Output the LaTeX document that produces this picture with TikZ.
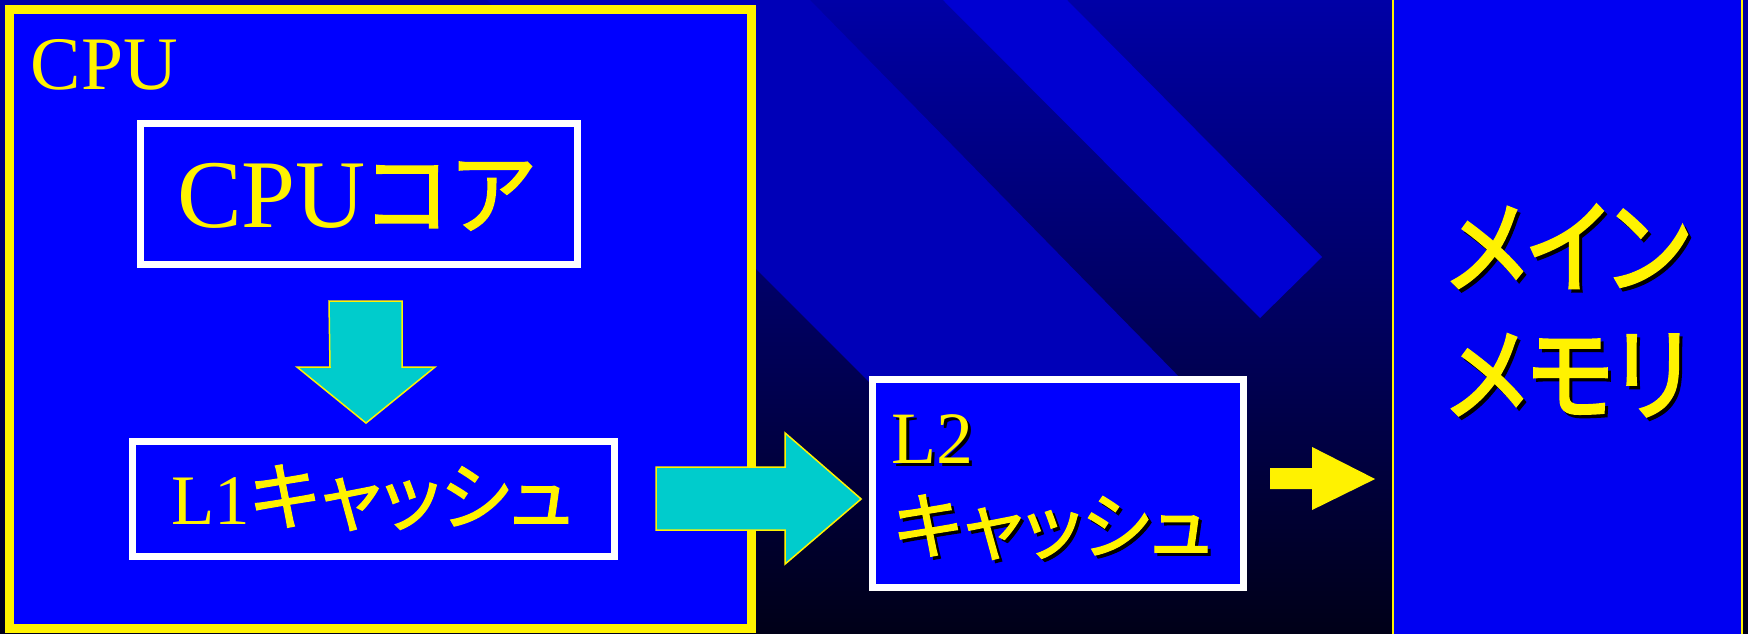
\documentclass[tikz,border=0pt]{standalone}
\usepackage{fontspec}
\setmainfont{Liberation Serif}
\newfontfamily\jp[RawFeature=+palt,FakeBold=1.6]{Noto Sans CJK JP}
\newfontfamily\jpheavy[RawFeature=+palt,FakeBold=2.6]{Noto Sans CJK JP}
\usetikzlibrary{calc}
\usepackage{xcolor}

\definecolor{panelblue}{HTML}{0000FF}
\definecolor{memblue}{HTML}{0000F2}
\definecolor{bgtop}{HTML}{0000A6}
\definecolor{bgbottom}{HTML}{000018}
\definecolor{ribbon}{HTML}{0000B8}
\definecolor{ribbonlight}{HTML}{0000D2}
\definecolor{fatcyan}{HTML}{00CCCC}

% black copy of the text a little down and right, yellow text on top
\newcommand{\shadowed}[1]{\makebox[0pt][l]{\hspace{0.03cm}\raisebox{-0.03cm}{\color{black}#1}}#1}

\begin{document}
\begin{tikzpicture}[x=0.01cm,y=-0.01cm,
every node/.style={inner sep=0pt},
cachebox/.style={rectangle,draw=white,fill=panelblue,line width=0.07cm},
lbl/.style={text=yellow},
fatarrow/.style={fill=fatcyan,draw=yellow,line width=0.015cm}]
\useasboundingbox (0,0) rectangle (1748,633);

% background and ribbons
\shade[top color=bgtop,bottom color=bgbottom] (0,0) rectangle (1748,633);
\fill[ribbon] (487,0) -- (810,0) -- (1187,385) -- (872,385) -- cycle;
\fill[ribbonlight] (943,0) -- (1067,0) -- (1322,257) -- (1260,318) -- cycle;

% CPU
\node[draw=yellow,fill=panelblue,line width=0.09cm,minimum width=7.41cm,minimum height=6.18cm] (cpu) at (380.5,319) {};
\node[lbl,anchor=base west,font=\fontsize{21.5}{24}\selectfont] (cpulbl) at (30,89) {CPU};

% main memory
\node[draw=yellow,fill=memblue,line width=0.02cm,minimum width=3.49cm,minimum height=6.6cm] (mem) at (1567.5,316.5) {};
\node[lbl,font=\fontsize{26}{30}\selectfont] (memtop) at (1568,248) {\scalebox{1}[1.12]{\shadowed{\jpheavy メイン}}};
\node[lbl,font=\fontsize{26}{30}\selectfont] (membot) at (1568,377) {\scalebox{1}[1.12]{\shadowed{\jpheavy メモリ}}};

% caches
\node[cachebox,minimum width=4.37cm,minimum height=1.41cm] (core) at (359,194) {};
\node[lbl,anchor=base,font=\fontsize{27.6}{30}\selectfont] (coretxt) at (356,227) {CPU{\jp\fontsize{25.5}{30}\selectfont コア}};
\node[cachebox,minimum width=4.82cm,minimum height=1.15cm] (l1) at (373.5,499) {};
\node[lbl,anchor=base,font=\fontsize{20.2}{24}\selectfont] (l1txt) at (372,524) {L1{\jp\fontsize{21.3}{24}\selectfont キャッシュ}};
\node[cachebox,minimum width=3.71cm,minimum height=2.08cm] (l2) at (1058,483.5) {};
\node[lbl,anchor=base west,font=\fontsize{21}{24}\selectfont] (l2a) at (891,463) {\shadowed{L2}};
\node[lbl,anchor=base west,font=\fontsize{21}{24}\selectfont] (l2b) at (893,553) {\shadowed{\jp キャッシュ}};

% arrows
\coordinate (a1) at ($(core.south)+(7,33)$);
\coordinate (a2) at ($(l1.east)+(38,0)$);
\coordinate (a3) at ($(l2.east)+(23,-5)$);
\filldraw[fatarrow] (a1) ++(-37,0) -- ++(73,0) -- ++(0,66) -- ++(33,0) -- ++(-69,56) -- ++(-69,-56) -- ++(33,0) -- cycle;
\filldraw[fatarrow] (a2) ++(0,-32) -- ++(129,0) -- ++(0,-34) -- ++(76,66) -- ++(-76,65) -- ++(0,-34) -- ++(-129,0) -- cycle;
\fill[yellow] (a3) ++(0,-10.5) -- ++(42,0) -- ++(0,-21) -- ++(63,32) -- ++(-63,31) -- ++(0,-21) -- ++(-42,0) -- cycle;
\end{tikzpicture}
\end{document}
